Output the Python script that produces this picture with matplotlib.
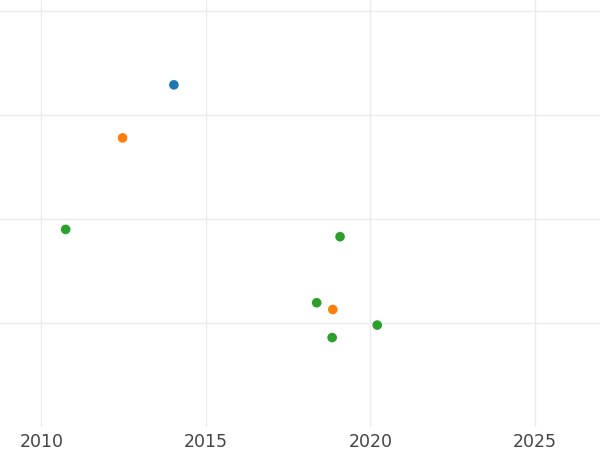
import matplotlib
matplotlib.use("Agg")
import matplotlib.pyplot as plt

# data (y axis unlabeled, arbitrary units)
blue_x = [2014.03]
blue_y = [3.29]
orange_x = [2012.47, 2018.86]
orange_y = [2.78, 1.13]
green_x = [2010.74, 2019.08, 2018.37, 2020.21, 2018.84]
green_y = [1.90, 1.83, 1.195, 0.98, 0.86]

xticks = [2010, 2015, 2020, 2025]
yticks = [1, 2, 3, 4]

fig = plt.figure(figsize=(6, 4.5), dpi=100)
ax = fig.add_axes([0, 1 - 427 / 450, 1, 427 / 450])

for xs, ys, color in [
    (blue_x, blue_y, "#1f77b4"),
    (orange_x, orange_y, "#ff7f0e"),
    (green_x, green_y, "#2ca02c"),
]:
    ax.scatter(xs, ys, s=48, color=color, edgecolors="none", zorder=3)

ax.set_xlim(2008.745, 2026.98)
ax.set_ylim(0, 4.106)
ax.set_xticks(xticks)
ax.set_yticks(yticks)
ax.set_xticklabels([str(t) for t in xticks])
ax.set_yticklabels([])

ax.grid(True, color="#ebebeb", linewidth=1.0)
ax.set_axisbelow(True)
for spine in ax.spines.values():
    spine.set_visible(False)
ax.tick_params(axis="both", length=0)
ax.tick_params(axis="x", labelsize=12.5, labelcolor="#444444", pad=4)

fig.savefig("out.png", dpi=100)
